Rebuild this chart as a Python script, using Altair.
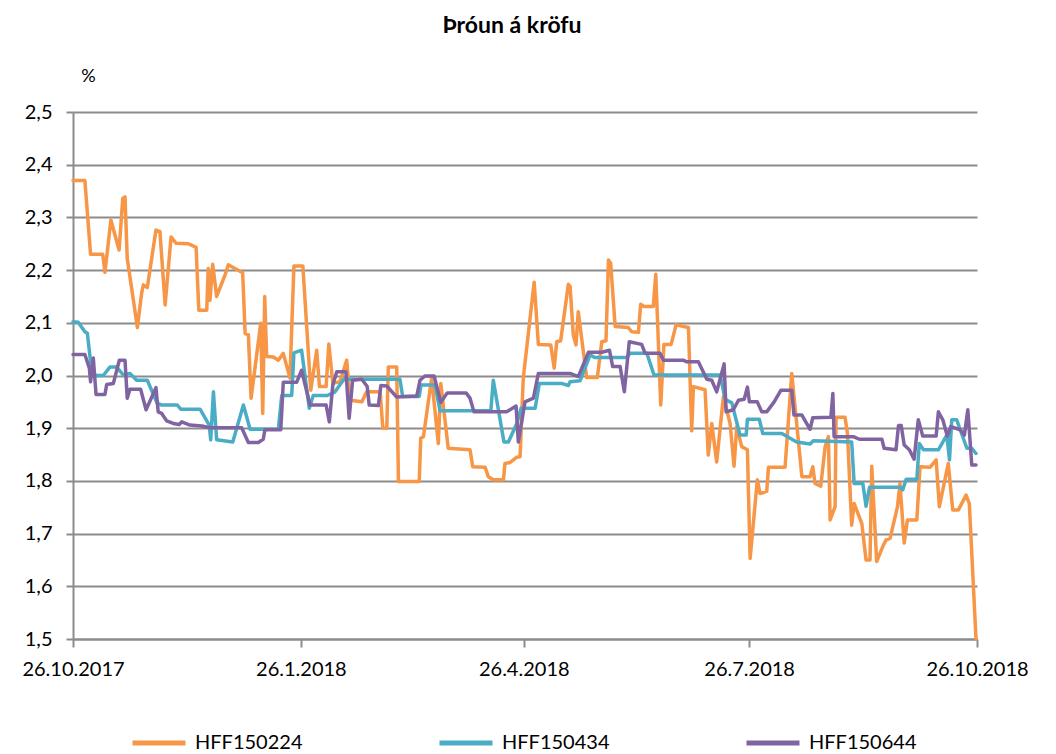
import altair as alt
import pandas as pd

START = pd.Timestamp("2017-10-26")
TITLE = "Þróun á kröfu"
SERIES = ["HFF150224", "HFF150434", "HFF150644"]
COLORS = ["#F79646", "#4BACC6", "#8064A2"]
Y_TICKS = [1.5, 1.6, 1.7, 1.8, 1.9, 2.0, 2.1, 2.2, 2.3, 2.4, 2.5]
X_TICKS = ["2017-10-26", "2018-01-26", "2018-04-26", "2018-07-26", "2018-10-26"]

# days after 26.10.2017, and yield (%)
days_224 = [0, 4.8, 7.1, 12.0, 12.9, 15.3, 18.6, 20.1, 21.0, 21.9,
            26.0, 27.7, 28.4, 30.0, 33.5, 35.1, 37.2, 39.6, 41.6, 46.6,
            49.7, 50.8, 54.0, 54.6, 55.3, 56.4, 58.0, 61.4, 62.7, 68.5,
            69.5, 70.8, 71.9, 75.8, 76.6, 77.4, 78.2, 80.9, 82.9, 84.9,
            87.6, 89.2, 92.8, 96.0, 98.4, 99.5, 102.2, 103.3, 104.9, 107.8,
            110.5, 111.9, 116.6, 118.6, 124.0, 125.1, 126.7, 127.3, 130.7, 131.4,
            139.8, 140.4, 141.5, 144.8, 147.5, 148.5, 151.5, 160.3, 161.4, 166.4,
            167.7, 169.7, 173.8, 174.4, 176.5, 179.2, 180.5, 181.8, 186.2, 187.9,
            192.9, 194.3, 195.3, 196.9, 200.0, 200.7, 202.0, 203.1, 204.0, 207.4,
            211.7, 213.5, 215.2, 216.2, 217.1, 218.9, 224.2, 225.6, 228.3, 229.2,
            230.6, 234.3, 235.3, 237.3, 238.6, 241.5, 243.5, 248.5, 249.8, 250.5,
            255.2, 256.5, 257.9, 259.9, 262.6, 265.3, 266.9, 268.0, 270.0, 272.3,
            273.4, 276.3, 277.4, 280.1, 280.8, 287.5, 290.2, 294.3, 297.6, 298.7,
            299.6, 301.9, 303.7, 305.0, 305.7, 307.7, 308.1, 311.7, 312.7, 314.4,
            315.4, 318.5, 320.2, 321.8, 322.5, 324.5, 327.2, 328.3, 329.9, 332.9,
            333.9, 335.6, 336.9, 340.7, 342.0, 346.1, 348.5, 349.8, 353.4, 355.2,
            357.5, 360.6, 361.9, 364.6]
vals_224 = [2.37, 2.37, 2.23, 2.23, 2.196, 2.295, 2.238, 2.336, 2.339, 2.222,
            2.091, 2.156, 2.172, 2.167, 2.276, 2.273, 2.134, 2.263, 2.251, 2.25,
            2.243, 2.124, 2.124, 2.203, 2.143, 2.211, 2.15, 2.191, 2.21, 2.195,
            2.08, 2.077, 1.957, 2.099, 1.928, 2.15, 2.036, 2.035, 2.029, 2.042,
            1.995, 2.208, 2.208, 1.972, 2.048, 1.979, 1.979, 2.06, 1.985, 1.988,
            2.029, 1.953, 1.95, 1.969, 1.969, 1.9, 1.9, 2.016, 2.016, 1.799,
            1.799, 1.881, 1.884, 1.995, 1.871, 1.985, 1.862, 1.859, 1.827, 1.826,
            1.808, 1.802, 1.802, 1.833, 1.835, 1.845, 1.846, 1.995, 2.177, 2.059,
            2.058, 2.014, 2.064, 2.066, 2.173, 2.169, 2.077, 2.058, 2.121, 1.996,
            1.996, 2.064, 2.066, 2.219, 2.213, 2.093, 2.091, 2.083, 2.082, 2.135,
            2.131, 2.131, 2.192, 1.944, 2.059, 2.059, 2.096, 2.091, 1.895, 1.979,
            1.973, 1.849, 1.909, 1.836, 1.96, 1.909, 1.828, 1.903, 1.865, 1.859,
            1.653, 1.802, 1.776, 1.78, 1.826, 1.826, 2.004, 1.808, 1.808, 1.827,
            1.795, 1.79, 1.865, 1.884, 1.726, 1.751, 1.921, 1.921, 1.89, 1.716,
            1.757, 1.719, 1.65, 1.65, 1.828, 1.647, 1.678, 1.688, 1.691, 1.751,
            1.795, 1.682, 1.726, 1.726, 1.827, 1.826, 1.84, 1.751, 1.833, 1.745,
            1.745, 1.773, 1.757, 1.5]

days_434 = [0, 2.1, 4.8, 5.8, 7.1, 8.9, 12.2, 14.9, 17.6, 20.3,
            23.0, 25.7, 30.0, 34.0, 35.8, 42.1, 43.5, 51.3, 55.0, 55.6,
            56.7, 58.0, 64.5, 68.8, 71.5, 82.9, 84.3, 88.3, 89.2, 92.3,
            95.4, 97.0, 102.7, 105.8, 109.4, 132.0, 133.1, 139.8, 140.5, 146.2,
            148.2, 168.7, 169.7, 174.0, 175.8, 179.2, 180.9, 186.6, 188.3, 197.3,
            200.0, 200.7, 204.7, 208.8, 210.8, 223.6, 224.9, 231.7, 234.6, 261.3,
            263.3, 266.0, 269.3, 271.8, 272.3, 277.1, 278.5, 286.2, 292.2, 297.6,
            298.9, 314.4, 315.4, 318.9, 320.2, 321.6, 333.9, 335.0, 336.4, 340.7,
            341.7, 343.4, 349.4, 352.8, 353.9, 354.8, 356.8, 360.9, 362.9, 364.6]
vals_434 = [2.102, 2.101, 2.083, 2.08, 2.026, 2.0, 2.0, 2.016, 2.016, 2.001,
            2.004, 1.991, 1.991, 1.947, 1.944, 1.944, 1.936, 1.936, 1.906, 1.878,
            1.969, 1.878, 1.874, 1.944, 1.898, 1.898, 1.962, 1.962, 2.043, 2.048,
            1.938, 1.962, 1.962, 1.969, 1.993, 1.993, 1.96, 1.96, 1.982, 1.982,
            1.933, 1.933, 1.991, 1.874, 1.874, 1.909, 1.938, 1.938, 1.985, 1.985,
            1.981, 1.988, 1.99, 2.039, 2.034, 2.034, 2.042, 2.042, 2.001, 2.001,
            1.955, 1.948, 1.887, 1.887, 1.917, 1.917, 1.89, 1.89, 1.874, 1.87,
            1.876, 1.874, 1.795, 1.795, 1.752, 1.788, 1.788, 1.783, 1.803, 1.803,
            1.871, 1.859, 1.859, 1.887, 1.84, 1.916, 1.916, 1.862, 1.862, 1.852]

days_644 = [0, 4.8, 6.6, 7.1, 8.2, 9.3, 12.9, 13.6, 16.3, 18.7,
            21.0, 21.9, 23.0, 27.3, 29.5, 33.5, 34.4, 35.8, 37.8, 40.5,
            42.9, 43.9, 47.2, 52.0, 55.3, 68.1, 70.8, 74.8, 76.8, 77.5,
            83.9, 84.9, 90.3, 92.3, 95.7, 102.2, 103.5, 104.9, 106.5, 110.2,
            111.5, 112.9, 116.6, 118.8, 119.6, 123.3, 124.3, 126.7, 130.7, 138.8,
            140.1, 142.1, 145.8, 148.5, 151.1, 158.7, 160.3, 161.9, 175.1, 178.9,
            179.8, 182.5, 185.9, 187.9, 200.7, 204.0, 208.1, 213.5, 216.6, 217.9,
            220.9, 222.6, 224.6, 229.6, 231.0, 237.0, 238.4, 246.4, 247.8, 252.5,
            255.9, 257.9, 259.9, 262.9, 263.7, 266.6, 268.7, 271.0, 272.3, 273.1,
            276.3, 278.1, 280.1, 283.1, 285.8, 290.2, 291.1, 294.3, 297.6, 298.7,
            306.0, 306.8, 307.3, 315.1, 317.5, 326.6, 327.5, 332.3, 333.3, 334.4,
            335.6, 337.7, 339.6, 341.3, 343.1, 348.5, 349.4, 351.2, 353.0, 354.4,
            358.2, 359.9, 361.3, 362.9, 364.6]
vals_644 = [2.04, 2.04, 2.014, 1.988, 2.033, 1.964, 1.964, 1.983, 1.985, 2.029,
            2.029, 1.957, 1.974, 1.974, 1.935, 1.977, 1.931, 1.928, 1.914, 1.909,
            1.907, 1.912, 1.906, 1.904, 1.901, 1.901, 1.873, 1.873, 1.879, 1.897,
            1.897, 1.987, 1.987, 2.01, 1.944, 1.944, 1.912, 1.982, 2.007, 2.007,
            1.919, 1.991, 1.993, 1.979, 1.944, 1.943, 1.981, 1.98, 1.959, 1.961,
            1.991, 1.999, 1.999, 1.949, 1.967, 1.967, 1.957, 1.931, 1.931, 1.942,
            1.874, 1.95, 1.957, 2.004, 2.004, 1.998, 2.044, 2.044, 2.048, 2.017,
            2.017, 1.969, 2.064, 2.059, 2.042, 2.042, 2.029, 2.029, 2.026, 2.026,
            1.993, 1.991, 1.969, 2.022, 1.931, 1.935, 1.953, 1.955, 1.978, 1.95,
            1.95, 1.931, 1.931, 1.95, 1.972, 1.972, 1.925, 1.925, 1.898, 1.92,
            1.921, 1.966, 1.884, 1.884, 1.879, 1.879, 1.862, 1.859, 1.905, 1.905,
            1.868, 1.859, 1.841, 1.916, 1.885, 1.885, 1.931, 1.916, 1.885, 1.903,
            1.897, 1.887, 1.935, 1.83, 1.83]

rows = []
for name, days, vals in zip(SERIES, [days_224, days_434, days_644],
                            [vals_224, vals_434, vals_644]):
    for i, (d, v) in enumerate(zip(days, vals)):
        rows.append({"series": name,
                     "date": START + pd.to_timedelta(d, unit="D"),
                     "value": v, "order": i})
df = pd.DataFrame(rows)

FONT = "Lato"
GRID = "#8c8c8c"
LABEL_SIZE = 20


def dt(s):
    t = pd.Timestamp(s)
    return alt.DateTime(year=t.year, month=t.month, date=t.day)


chart = alt.Chart(df).mark_line(strokeWidth=3.5, strokeJoin="round", strokeCap="round").encode(
    x=alt.X("date:T",
            scale=alt.Scale(domain=[dt(X_TICKS[0]), dt(X_TICKS[-1])]),
            axis=alt.Axis(values=[dt(s) for s in X_TICKS], format="%-d.%-m.%Y",
                          title=None, grid=False, labelFont=FONT, labelFontSize=LABEL_SIZE,
                          labelColor="black", labelPadding=12, labelOverlap=False,
                          labelFlush=False, tickSize=8, tickColor=GRID, tickWidth=2,
                          domainColor=GRID, domainWidth=2)),
    y=alt.Y("value:Q",
            scale=alt.Scale(domain=[1.5, 2.5], nice=False, zero=False),
            axis=alt.Axis(values=Y_TICKS,
                          labelExpr="replace(format(datum.value, '.1f'), '.', ',')",
                          title="%", titleAngle=0, titleX=15, titleY=-36,
                          titleAlign="center", titleBaseline="middle",
                          titleFont=FONT, titleFontSize=18, titleFontWeight="normal",
                          titleColor="black",
                          labelFont=FONT, labelFontSize=LABEL_SIZE, labelColor="black",
                          labelPadding=14, tickSize=7, tickColor=GRID, tickWidth=2,
                          grid=True, gridColor=GRID, gridWidth=2,
                          domainColor=GRID, domainWidth=2)),
    color=alt.Color("series:N",
                    scale=alt.Scale(domain=SERIES, range=COLORS),
                    legend=alt.Legend(title=None, orient="none", legendX=57, legendY=602,
                                      direction="horizontal", symbolType="stroke",
                                      symbolSize=2809, symbolStrokeWidth=5,
                                      labelFont=FONT, labelFontSize=LABEL_SIZE,
                                      labelColor="black",
                                      labelOffset=7, columnPadding=126, padding=0)),
    order="order:Q",
).properties(
    width=904,
    height=527,
    title=alt.TitleParams(TITLE, font=FONT, fontSize=23, fontWeight="bold",
                          color="black", anchor="middle", offset=29, frame="group",
                          dx=-13),
    padding={"left": 65, "top": 104, "right": 70, "bottom": 115},
    autosize=alt.AutoSizeParams(type="none"),
).configure_view(stroke=None)

chart.save("out.html", embed_options={"renderer": "svg", "actions": False})
